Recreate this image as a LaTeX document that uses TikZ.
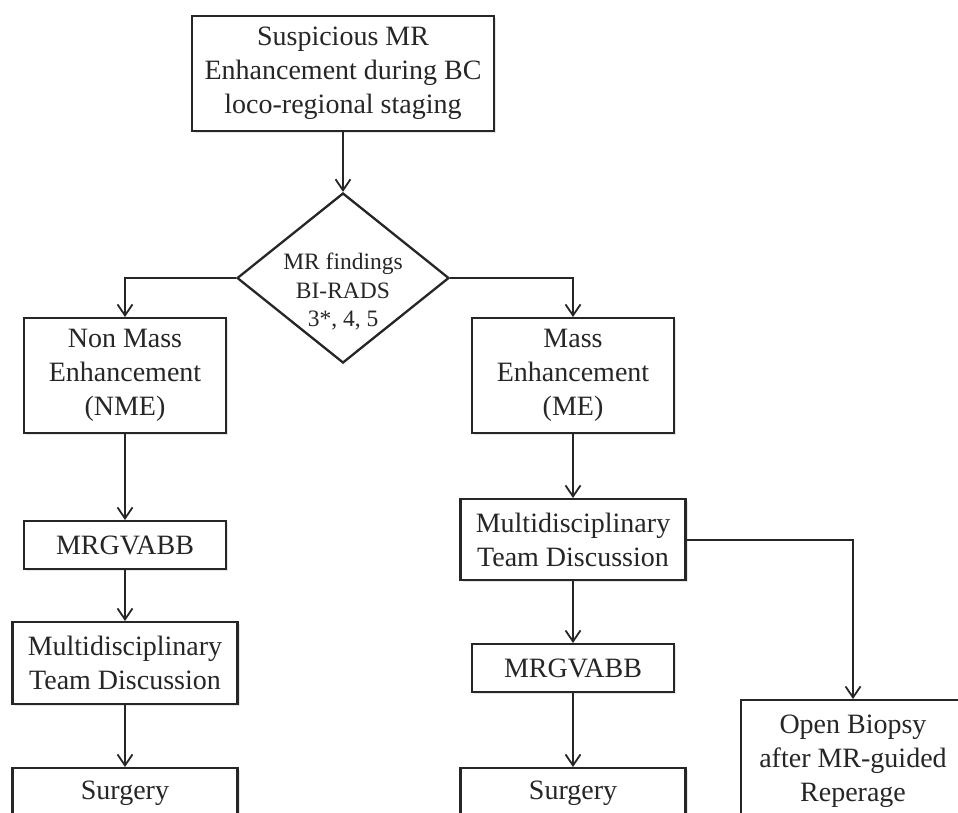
\documentclass[tikz,border=0pt]{standalone}
\usepackage{fontspec}
\setmainfont{Liberation Serif}
\usetikzlibrary{
  arrows.meta,
  shapes.geometric,
  chains,
  scopes,
  shadows
}

\begin{document}
\begin{tikzpicture}[
      x=1pt, y=-1pt,
      process/.style={
         rectangle,
         anchor=north,
         draw=black!85,
         line width=2.3pt,
         fill=white,
         drop shadow={shadow xshift=2pt,shadow yshift=-2pt,opacity=.2},
         inner sep=0pt,
         align=center,
         font=\fontsize{28}{34}\selectfont,
         text=black!85
      },
      decision/.style={
         diamond,
         draw=black!85,
         line width=2.3pt,
         fill=white,
         inner sep=0pt,
         minimum width=212pt,
         minimum height=170pt,
         font=\fontsize{23.5}{28.5}\selectfont,
         text=black!85
      },
      >={Straight Barb[length=11pt,width=15pt]},
      tip/.style={->},
      every join/.style={line width=1.8pt,draw=black!85},
      hv path/.style={to path={-| (\tikztotarget)}},
    ]
    \useasboundingbox (0,0) rectangle (958,812);
    \clip (0,0) rectangle (958,812);

    % middle
    \node (susp) [process, minimum width=302pt, minimum height=115pt] at (343,15)
       {Suspicious MR\\Enhancement during BC\\loco-regional staging};
    \node (find) [decision] at (343,278)
       {\raisebox{-21pt}[0pt][0pt]{\begin{tabular}{@{}c@{}}MR findings\\BI-RADS\\3*, 4, 5\end{tabular}}};

    % left branch
    \node (nme)   [process, minimum width=202pt, minimum height=115pt] at (125,317) {Non Mass\\Enhancement\\(NME)};
    \node (vabl)  [process, minimum width=202pt, minimum height=48pt]  at (125,520) {MRGVABB};
    \node (mtdl)  [process, minimum width=225pt, minimum height=82pt]  at (125,621) {Multidisciplinary\\Team Discussion};
    \node (surgl) [process, minimum width=225pt, minimum height=50pt]  at (125,767) {Surgery};

    % right branch
    \node (me)    [process, minimum width=202pt, minimum height=115pt] at (573,317) {Mass\\Enhancement\\(ME)};
    \node (mtdr)  [process, minimum width=225pt, minimum height=81pt]  at (573,498) {Multidisciplinary\\Team Discussion};
    \node (vabr)  [process, minimum width=202pt, minimum height=48pt]  at (573,643) {MRGVABB};
    \node (surgr) [process, minimum width=225pt, minimum height=50pt]  at (573,767) {Surgery};
    \node (open)  [process, minimum width=224pt, minimum height=122pt] at (853,699) {Open Biopsy\\after MR-guided\\Reperage};

  { [start chain]
       \chainin (susp);
       \chainin (find)    [join=by tip];
  }
  { [start chain]
       \chainin (find);
       \chainin (nme)    [join=by {hv path,tip}];
       \chainin (vabl)   [join=by tip];
       \chainin (mtdl)   [join=by tip];
       \chainin (surgl)  [join=by tip];
  }
  { [start chain]
       \chainin (find);
       \chainin (me)     [join=by {hv path,tip}];
       \chainin (mtdr)   [join=by tip];
       \chainin (vabr)   [join=by tip];
       \chainin (surgr)  [join=by tip];
  }
  { [start chain]
       \chainin (mtdr);
       \chainin (open)   [join=by {hv path,tip}];
  }
\end{tikzpicture}
\end{document}
